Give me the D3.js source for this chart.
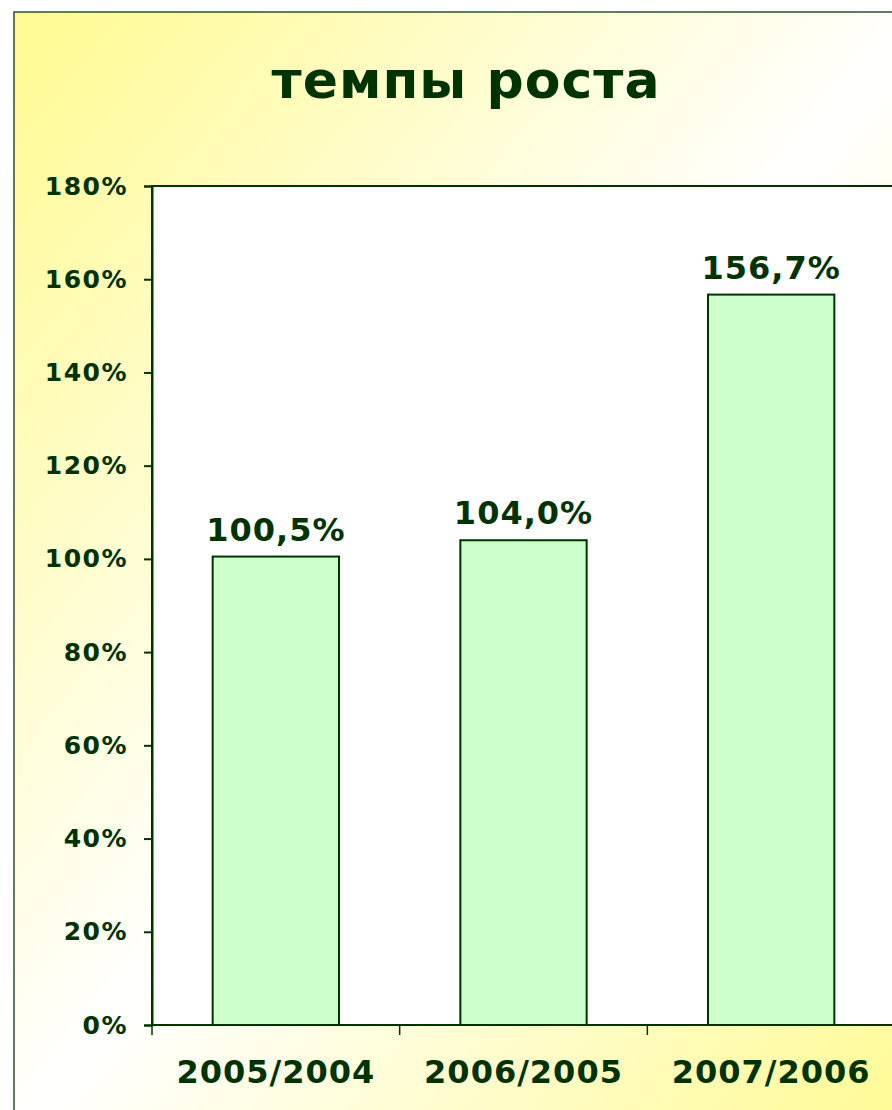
<!DOCTYPE html>
<html>
<head>
<meta charset="utf-8">
<script src="https://cdn.jsdelivr.net/npm/d3@7"></script>
<style>
  html, body { margin: 0; padding: 0; background: #fff; }
  svg { display: block; }
  text { font-family: Verdana, "DejaVu Sans", sans-serif; font-weight: bold; fill: #003300; }
</style>
</head>
<body>
<div id="chart"></div>
<script>
const categories = ["2005/2004", "2006/2005", "2007/2006"];
const growth = [100.5, 104.0, 156.7];
const valueLabels = ["100,5%", "104,0%", "156,7%"];
const yTicks = [0, 20, 40, 60, 80, 100, 120, 140, 160, 180];

const width = 892;
const height = 1110;
const dark = "#003300";

const svg = d3.select("#chart").append("svg")
  .attr("width", width)
  .attr("height", height);

// background: yellow -> white -> yellow diagonal
const defs = svg.append("defs");
const grad = defs.append("linearGradient")
  .attr("id", "bg")
  .attr("x1", "0%").attr("y1", "0%")
  .attr("x2", "100%").attr("y2", "100%");
grad.append("stop").attr("offset", "0%").attr("stop-color", "#fffa90");
grad.append("stop").attr("offset", "50%").attr("stop-color", "#ffffff");
grad.append("stop").attr("offset", "100%").attr("stop-color", "#fffa90");

svg.append("rect")
  .attr("x", 14).attr("y", 12)
  .attr("width", width + 20).attr("height", height + 20)
  .attr("fill", "url(#bg)")
  .attr("stroke", "#2f4f2f")
  .attr("stroke-width", 1.5);

svg.append("text")
  .attr("x", 466)
  .attr("y", 98)
  .attr("text-anchor", "middle")
  .style("font-size", "52px")
  .style("letter-spacing", "1px")
  .text("темпы роста");

const plot = { left: 152, right: 895, top: 186, bottom: 1025 };

const x = d3.scaleBand()
  .domain(categories)
  .range([plot.left, plot.right])
  .paddingInner(0.49)
  .paddingOuter(0.245);

const y = d3.scaleLinear()
  .domain([0, 180])
  .range([plot.bottom, plot.top]);

// plot area
svg.append("rect")
  .attr("x", plot.left).attr("y", plot.top)
  .attr("width", plot.right - plot.left + 10)
  .attr("height", plot.bottom - plot.top)
  .attr("fill", "#fff")
  .attr("stroke", dark)
  .attr("stroke-width", 2);

// bars
svg.selectAll("rect.bar")
  .data(growth)
  .join("rect")
  .attr("class", "bar")
  .attr("x", (d, i) => x(categories[i]))
  .attr("y", d => y(d))
  .attr("width", x.bandwidth())
  .attr("height", d => y(0) - y(d))
  .attr("fill", "#ccffcc")
  .attr("stroke", dark)
  .attr("stroke-width", 2);

// value labels
svg.selectAll("text.val")
  .data(growth)
  .join("text")
  .attr("class", "val")
  .attr("x", (d, i) => x(categories[i]) + x.bandwidth() / 2)
  .attr("y", d => y(d) - 16)
  .attr("text-anchor", "middle")
  .style("font-size", "32px")
  .style("letter-spacing", "1px")
  .text((d, i) => valueLabels[i]);

// y axis
const yAxis = svg.append("g")
  .attr("transform", `translate(${plot.left},0)`)
  .call(d3.axisLeft(y).tickValues(yTicks).tickSize(8).tickPadding(16)
    .tickFormat(d => d + "%"));
yAxis.select(".domain").attr("stroke", dark).attr("stroke-width", 2);
yAxis.selectAll(".tick line").attr("stroke", dark).attr("stroke-width", 2);
yAxis.selectAll(".tick text")
  .attr("fill", dark)
  .style("font-family", 'Verdana, "DejaVu Sans", sans-serif')
  .style("font-weight", "bold")
  .style("font-size", "25px")
  .style("letter-spacing", "1.5px");

// x axis
const xAxis = svg.append("g")
  .attr("transform", `translate(0,${plot.bottom})`)
  .call(d3.axisBottom(x).tickSize(0).tickPadding(35));
xAxis.select(".domain").remove();
xAxis.selectAll(".tick text")
  .attr("fill", dark)
  .style("font-family", 'Verdana, "DejaVu Sans", sans-serif')
  .style("font-weight", "bold")
  .style("font-size", "32px")
  .style("letter-spacing", "1px");

svg.append("line")
  .attr("x1", plot.left).attr("x2", width + 10)
  .attr("y1", plot.bottom).attr("y2", plot.bottom)
  .attr("stroke", dark).attr("stroke-width", 2);

// ticks between categories
const bounds = d3.range(categories.length + 1).map(i => plot.left + i * x.step());
svg.selectAll("line.xtick")
  .data(bounds)
  .join("line")
  .attr("class", "xtick")
  .attr("x1", d => d).attr("x2", d => d)
  .attr("y1", plot.bottom).attr("y2", plot.bottom + 10)
  .attr("stroke", dark).attr("stroke-width", 1.5);
</script>
</body>
</html>
